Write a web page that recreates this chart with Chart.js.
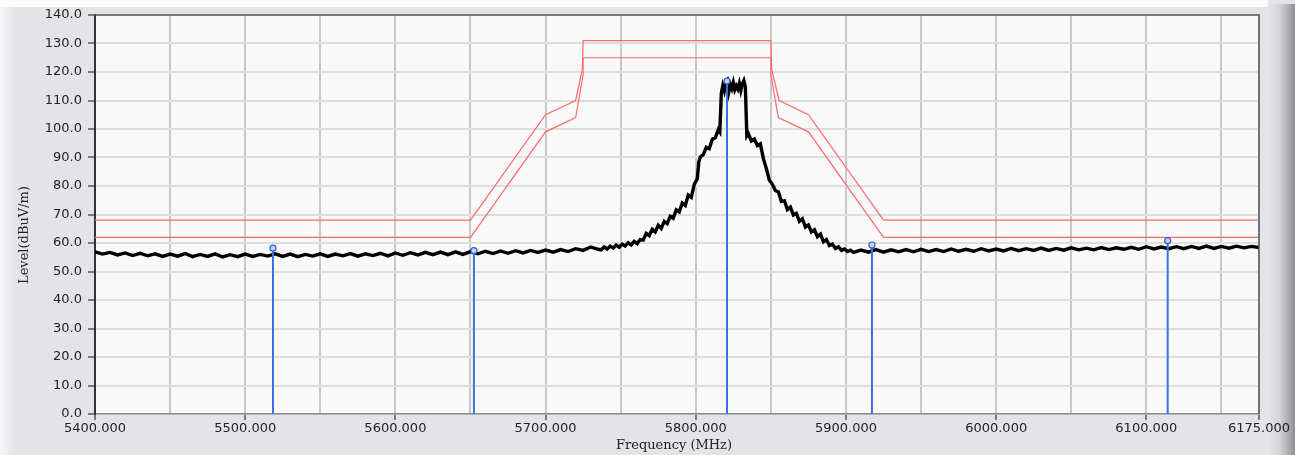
<!DOCTYPE html>
<html>
<head>
<meta charset="utf-8">
<script src="https://cdn.jsdelivr.net/npm/chart.js@4.4.0/dist/chart.umd.min.js"></script>
<style>
  html, body { margin: 0; padding: 0; background: #e4e4e8; }
</style>
</head>
<body>
<canvas id="spectrum" width="1295" height="455"></canvas>
<script>
// --- data ---
var leftFreq = [5400,5405,5410,5415,5420,5425,5430,5435,5440,5445,5450,5455,5460,5465,5470,5475,5480,5485,5490,5495,
  5500,5505,5510,5515,5520,5525,5530,5535,5540,5545,5550,5555,5560,5565,5570,5575,5580,5585,5590,5595,
  5600,5605,5610,5615,5620,5625,5630,5635,5640,5645,5650,5655,5660,5665,5670,5675,5680,5685,5690,5695,
  5700,5705,5710,5715,5720,5725,5730,5735];
var leftLevel = [56.9,56.1,56.7,55.8,56.5,55.6,56.4,55.5,56.2,55.3,56.1,55.4,56.3,55.2,56.0,55.3,56.2,55.1,55.9,55.2,
  56.1,55.3,56.0,55.4,56.2,55.3,56.1,55.2,56.0,55.4,56.2,55.3,56.1,55.5,56.3,55.4,56.2,55.6,56.4,55.5,
  56.5,55.7,56.6,55.8,56.7,55.9,56.8,55.9,56.9,56.0,57.0,56.2,57.1,56.3,57.2,56.4,57.3,56.5,57.4,56.7,
  57.5,56.8,57.7,57.0,58.0,57.4,58.6,57.8];

var peakFreq = [5737,5739,5741,5743,5745,5747,5749,5751,5753,5755,5757,5759,5761,5763,5765,5767,5769,5771,5773,5775,
  5777,5779,5781,5783,5785,5787,5789,5791,5793,5795,5797,5799,5801,5802,5803,5805,5807,5809,5811,5813,
  5815,5816,5817,5818,5819,5820,5821,5822,5823,5824,5825,5826,5827,5828,5829,5830,5831,5832,5833,5834,
  5835,5837,5839,5841,5843,5845,5847,5849,5851,5853,5855,5857,5859,5861,5863,5865,5867,5869,5871,5873,
  5875,5877,5879,5881,5883,5885,5887,5889,5891,5893,5895,5897,5899,5901,5903];
var peakLevel = [57.6,58.6,57.9,58.9,58.2,59.3,58.5,59.6,58.9,60.1,59.3,60.6,59.8,61.2,61.0,63.4,62.6,64.8,63.9,66.2,
  65.1,67.6,66.8,69.4,68.7,71.6,70.9,74.0,73.2,76.8,76.0,80.6,82.5,88.4,90.2,91.0,93.6,93.1,96.4,96.9,
  99.8,99.0,112.5,115.2,113.4,116.2,117.0,113.1,115.6,114.2,116.3,113.8,115.1,114.0,116.0,113.5,115.8,117.0,114.8,97.6,
  98.4,95.8,96.5,94.2,94.8,89.6,86.1,82.0,80.6,78.4,77.9,74.6,74.8,71.7,72.6,69.8,70.4,67.6,68.5,65.6,
  66.3,63.9,64.6,62.2,63.1,60.4,61.2,59.1,59.6,58.1,58.7,57.4,57.9,57.0,57.5];

var rightFreq = [5905,5910,5915,5920,5925,5930,5935,5940,5945,5950,5955,5960,5965,5970,5975,5980,5985,5990,5995,6000,
  6005,6010,6015,6020,6025,6030,6035,6040,6045,6050,6055,6060,6065,6070,6075,6080,6085,6090,6095,6100,
  6105,6110,6115,6120,6125,6130,6135,6140,6145,6150,6155,6160,6165,6170,6175];
var rightLevel = [56.7,57.5,56.8,57.7,56.8,57.6,56.9,57.7,56.9,57.8,57.0,57.7,57.0,57.9,57.1,57.8,57.1,58.0,57.2,57.9,
  57.2,58.1,57.3,58.0,57.4,58.2,57.4,58.1,57.5,58.3,57.6,58.2,57.6,58.4,57.7,58.3,57.8,58.5,57.8,58.7,
  57.9,58.6,58.0,58.7,58.0,58.8,58.1,58.9,58.1,58.8,58.2,58.9,58.3,58.8,58.4];

var upperFreq  = [5400,5650,5700,5720,5724.5,5725,5850,5850.5,5855.5,5875,5925,6175];
var upperLevel = [68,68,105,110,121,131,131,121,110,105,68,68];
var lowerFreq  = [5400,5650,5700,5720,5725,5725,5850,5850,5855,5875,5925,6175];
var lowerLevel = [62,62,99,104,119,125,125,119,104,99,62,62];

var markerFreq  = [5518.5,5652.3,5820.8,5917.3,6114.2];
var markerLevel = [58.2,57.3,116.8,59.3,60.8];

var xGridTicks  = [5400,5450,5500,5550,5600,5650,5700,5750,5800,5850,5900,5950,6000,6050,6100,6150,6175];
var xLabelTicks = [5400,5500,5600,5700,5800,5900,6000,6100,6175];

function pts(xs, ys) {
    var out = [];
    for (var i = 0; i < xs.length; i++) out.push({x: xs[i], y: ys[i]});
    return out;
}

var trace = pts(leftFreq.concat(peakFreq, rightFreq), leftLevel.concat(peakLevel, rightLevel));

var stems = [];
for (var i = 0; i < markerFreq.length; i++) {
    stems.push({x: markerFreq[i], y: 0});
    stems.push({x: markerFreq[i], y: markerLevel[i]});
    stems.push({x: markerFreq[i], y: null});
}

var backdrop = {
    id: 'backdrop',
    beforeDraw: function(chart) {
        var ctx = chart.ctx, a = chart.chartArea, w = chart.width, h = chart.height;
        ctx.save();
        ctx.fillStyle = '#e4e4e8';
        ctx.fillRect(0, 0, w, h);
        ctx.fillStyle = '#fcfcfd';
        ctx.fillRect(0, 0, 1268, 7);
        var g = ctx.createLinearGradient(0, 0, 14, 0);
        g.addColorStop(0, '#f7f7fa');
        g.addColorStop(1, '#e4e4e8');
        ctx.fillStyle = g;
        ctx.fillRect(0, 7, 14, h - 7);
        g = ctx.createLinearGradient(1268, 0, 1295, 0);
        g.addColorStop(0, '#e6e6ea');
        g.addColorStop(0.45, '#d2d2d6');
        g.addColorStop(0.85, '#a2a2a6');
        g.addColorStop(1, '#8e8e92');
        ctx.fillStyle = g;
        ctx.fillRect(1268, 4, 27, h - 4);
        ctx.fillStyle = '#f9f9f9';
        ctx.fillRect(a.left, a.top, a.right - a.left, a.bottom - a.top);
        ctx.restore();
    },
    afterDraw: function(chart) {
        var ctx = chart.ctx, a = chart.chartArea;
        ctx.save();
        ctx.strokeStyle = '#555';
        ctx.lineWidth = 1.5;
        ctx.beginPath();
        ctx.moveTo(a.left, a.top);
        ctx.lineTo(a.right, a.top);
        ctx.lineTo(a.right, a.bottom);
        ctx.stroke();
        ctx.fillStyle = '#222';
        ctx.font = '13px "DejaVu Serif"';
        ctx.textAlign = 'center';
        ctx.textBaseline = 'middle';
        ctx.fillText('Frequency (MHz)', 674, 446);
        ctx.translate(25, 235);
        ctx.rotate(-Math.PI / 2);
        ctx.fillText('Level(dBuV/m)', 0, 0);
        ctx.restore();
    }
};

var chart = new Chart(document.getElementById('spectrum'), {
    type: 'line',
    data: {
        datasets: [
            { data: pts(markerFreq, markerLevel), showLine: false, pointStyle: 'circle', pointRadius: 3,
              pointBorderColor: '#2f5fd8', pointBackgroundColor: '#c4d2f6', pointBorderWidth: 1.2, order: 0 },
            { data: pts(markerFreq, markerLevel), showLine: false, pointStyle: 'cross', pointRadius: 3,
              pointBorderColor: '#2f5fd8', pointBorderWidth: 1, order: 0 },
            { data: stems, borderColor: '#3c6ee6', borderWidth: 2, pointRadius: 0, spanGaps: false, order: 1 },
            { data: trace, borderColor: '#000', borderWidth: 3.4, pointRadius: 0, tension: 0, order: 2 },
            { data: pts(upperFreq, upperLevel), borderColor: '#ff6a6a', borderWidth: 1.2, pointRadius: 0, order: 3 },
            { data: pts(lowerFreq, lowerLevel), borderColor: '#ff6a6a', borderWidth: 1.2, pointRadius: 0, order: 3 }
        ]
    },
    options: {
        responsive: false,
        animation: false,
        layout: { padding: { left: 0, top: 15, right: 36, bottom: 0 } },
        plugins: { legend: { display: false }, tooltip: { enabled: false } },
        scales: {
            x: {
                type: 'linear',
                min: 5400,
                max: 6175,
                afterBuildTicks: function(scale) {
                    scale.ticks = xGridTicks.map(function(v) { return {value: v}; });
                },
                afterFit: function(scale) { scale.height = 41; },
                border: { color: '#8a8a8a', width: 1.5 },
                grid: {
                    color: '#c8c8c8',
                    lineWidth: 2,
                    tickLength: 6,
                    tickWidth: 1.2,
                    tickColor: function(c) {
                        return xLabelTicks.indexOf(c.tick.value) >= 0 ? '#333' : 'rgba(0,0,0,0)';
                    }
                },
                ticks: {
                    autoSkip: false,
                    maxRotation: 0,
                    padding: 1,
                    color: '#222',
                    font: { family: 'DejaVu Sans', size: 13 },
                    callback: function(v) {
                        return xLabelTicks.indexOf(v) >= 0 ? v.toFixed(3) : '';
                    }
                }
            },
            y: {
                min: 0,
                max: 140,
                afterFit: function(scale) { scale.width = 95; },
                border: { color: '#333', width: 2 },
                grid: { color: '#dedede', lineWidth: 2, tickLength: 7, tickWidth: 1.2, tickColor: '#333' },
                ticks: {
                    stepSize: 10,
                    padding: 6,
                    color: '#222',
                    font: { family: 'DejaVu Sans', size: 13 },
                    callback: function(v) { return v.toFixed(1); }
                }
            }
        }
    },
    plugins: [backdrop]
});
</script>
</body>
</html>
